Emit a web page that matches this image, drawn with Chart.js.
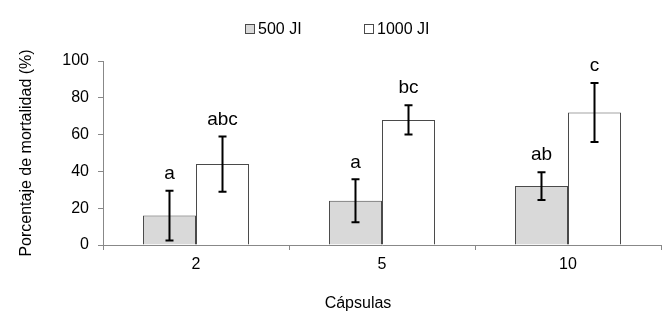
<!DOCTYPE html>
<html>
<head>
<meta charset="utf-8">
<script src="https://cdn.jsdelivr.net/npm/chart.js@4/dist/chart.umd.min.js"></script>
<style>
  html, body { margin: 0; padding: 0; background: #fff; }
  #wrap { width: 671px; height: 317px; position: relative; }
</style>
</head>
<body>
<div id="wrap"><canvas id="c"></canvas></div>
<script>
const categories = ['2', '5', '10']
const seriesNames = ['500 JI', '1000 JI']
const mort500 = [16, 24, 32]
const mort1000 = [44, 68, 72]
const err500 = [13.5, 11.7, 7.6]
const err1000 = [15, 8, 16]
const letters500 = ['a', 'a', 'ab']
const letters1000 = ['abc', 'bc', 'c']
const yTicks = [0, 20, 40, 60, 80, 100]
const xTitle = 'Cápsulas'

const FONT = '"Liberation Sans", Arial, sans-serif'
const AXIS = '#888888'
const EDGE = '#4a4a4a'

// error bars + letters on top of each bar
const errorBars = {
  id: 'errorBars',
  afterDatasetsDraw(chart) {
    const { ctx, scales: { y } } = chart
    chart.data.datasets.forEach((ds, di) => {
      const meta = chart.getDatasetMeta(di)
      meta.data.forEach((bar, i) => {
        const v = ds.data[i], e = ds.errors[i]
        const top = y.getPixelForValue(v + e)
        const bot = y.getPixelForValue(v - e)
        ctx.save()
        ctx.strokeStyle = '#000'
        ctx.lineWidth = 2
        ctx.beginPath()
        ctx.moveTo(bar.x, top); ctx.lineTo(bar.x, bot)
        ctx.moveTo(bar.x - 4, top); ctx.lineTo(bar.x + 4, top)
        ctx.moveTo(bar.x - 4, bot); ctx.lineTo(bar.x + 4, bot)
        ctx.stroke()
        ctx.fillStyle = '#000'
        ctx.font = '19px ' + FONT
        ctx.textAlign = 'center'
        ctx.textBaseline = 'middle'
        ctx.fillText(ds.letters[i], bar.x, top - 17)
        ctx.restore()
      })
    })
  }
}

// legend drawn like the Excel one: small boxes, wide spacing; x title sits left of centre
const extras = {
  id: 'extras',
  afterDraw(chart) {
    const { ctx } = chart
    const xs = [245, 364]
    chart.data.datasets.forEach((ds, i) => {
      ctx.save()
      ctx.fillStyle = ds.backgroundColor
      ctx.strokeStyle = EDGE
      ctx.lineWidth = 1
      ctx.fillRect(xs[i] + 0.5, 24.5, 9, 9)
      ctx.strokeRect(xs[i] + 0.5, 24.5, 9, 9)
      ctx.fillStyle = '#000'
      ctx.font = '16px ' + FONT
      ctx.textBaseline = 'middle'
      ctx.fillText(ds.label, xs[i] + 13, 29.5)
      ctx.restore()
    })
    ctx.save()
    ctx.fillStyle = '#000'
    ctx.font = '16px ' + FONT
    ctx.textAlign = 'center'
    ctx.textBaseline = 'middle'
    ctx.fillText(xTitle, 358, 304)
    ctx.restore()
  }
}

new Chart(document.getElementById('c'), {
  type: 'bar',
  data: {
    labels: categories,
    datasets: [
      {
        label: seriesNames[0], data: mort500, errors: err500, letters: letters500,
        backgroundColor: '#d9d9d9', borderColor: EDGE, borderWidth: 1,
      },
      {
        label: seriesNames[1], data: mort1000, errors: err1000, letters: letters1000,
        backgroundColor: '#ffffff', borderColor: EDGE, borderWidth: 1,
      },
    ],
  },
  options: {
    responsive: true,
    maintainAspectRatio: false,
    animation: false,
    layout: { padding: { top: 61, right: 10, bottom: 0, left: 0 } },
    datasets: { bar: { categoryPercentage: 0.57, barPercentage: 1 } },
    plugins: { legend: { display: false }, tooltip: { enabled: false } },
    scales: {
      x: {
        afterFit: s => { s.height = 72 },
        grid: { drawOnChartArea: false, tickLength: 5, color: AXIS, offset: true },
        border: { color: AXIS, width: 1 },
        ticks: { color: '#000', font: { family: FONT, size: 16 }, padding: 5 },
      },
      y: {
        min: 0, max: 100,
        afterFit: s => { s.width = 103 },
        afterBuildTicks: s => { s.ticks = yTicks.map(v => ({ value: v })) },
        grid: { drawOnChartArea: false, tickLength: 5, color: AXIS },
        border: { color: AXIS, width: 1 },
        ticks: { color: '#000', font: { family: FONT, size: 16 }, padding: 9 },
        title: {
          display: true, text: 'Porcentaje de mortalidad (%)', color: '#000',
          font: { family: FONT, size: 16 }, padding: { top: 17, bottom: 0 },
        },
      },
    },
  },
  plugins: [errorBars, extras],
})
</script>
</body>
</html>
